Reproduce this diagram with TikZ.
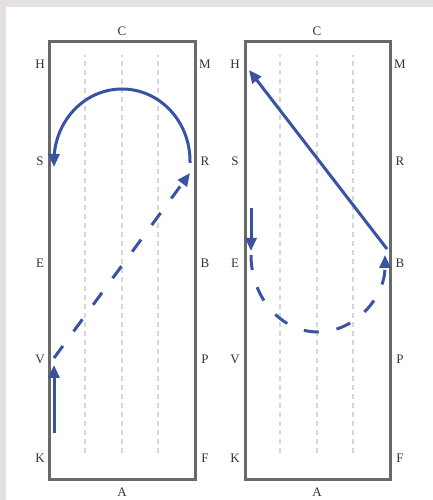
\documentclass[tikz,border=0pt]{standalone}
\usepackage{fontspec}
\setmainfont{Liberation Serif}
\usetikzlibrary{arrows.meta}
\definecolor{bluepath}{HTML}{3A52A2}
\definecolor{framegray}{HTML}{696969}
\definecolor{guidegray}{HTML}{D6D6D6}
\definecolor{bordergray}{HTML}{E5E1E0}
\definecolor{labelcol}{HTML}{333333}
\begin{document}
\begin{tikzpicture}[x=1pt,y=1pt,
  lab/.style={font=\fontsize{13}{13}\selectfont, text=labelcol, inner sep=0pt},
  arena/.style={draw=framegray, line width=3pt},
  guide/.style={draw=guidegray, line width=1.3pt, dash pattern=on 5pt off 4pt},
  route/.style={draw=bluepath, line width=3pt, line cap=butt},
  routedash/.style={route, dash pattern=on 15pt off 18pt},
  tip/.style={-{Triangle[length=13pt,width=11pt]}}
]
\useasboundingbox (0,0) rectangle (433,500);
\fill[white] (0,0) rectangle (433,500);
\fill[bordergray] (0,493) rectangle (433,500);
\fill[bordergray] (0,0) rectangle (6,500);

% ---------- left arena ----------
\draw[arena] (49.5,20.5) rectangle (195,458.5);
\foreach \gx in {85,122,158} \draw[guide] (\gx,47) -- (\gx,445);
\node[lab] (lC) at (122,469) {C};
\node[lab] (lA) at (122,8) {A};
\node[lab] (lH) at (40,436) {H};
\node[lab] (lS) at (40,339) {S};
\node[lab] (lE) at (40,237) {E};
\node[lab] (lV) at (40,141) {V};
\node[lab] (lK) at (40,42) {K};
\node[lab] (lM) at (205,436) {M};
\node[lab] (lR) at (205,339) {R};
\node[lab] (lB) at (205,237) {B};
\node[lab] (lP) at (205,141) {P};
\node[lab] (lF) at (205,42) {F};

\coordinate (l1) at (54,67);
\coordinate (l2) at (54,135);
\coordinate (l3) at (54,142);
\coordinate (l4) at (190,327);
\coordinate (l5) at (190,337);
\coordinate (l6) at (54,333);
\draw[route,tip] (l1) -- (l2);
\draw[routedash,tip] (l3) -- (l4);
\draw[route,tip] (l5) -- (190,339) arc[start angle=0,end angle=180,x radius=68pt,y radius=72pt] -- (l6);

% ---------- right arena ----------
\draw[arena] (245,20.5) rectangle (390,458.5);
\foreach \gx in {280,317,353} \draw[guide] (\gx,47) -- (\gx,445);
\node[lab] (rC) at (317,469) {C};
\node[lab] (rA) at (317,8) {A};
\node[lab] (rH) at (235,436) {H};
\node[lab] (rS) at (235,339) {S};
\node[lab] (rE) at (235,237) {E};
\node[lab] (rV) at (235,141) {V};
\node[lab] (rK) at (235,42) {K};
\node[lab] (rM) at (400,436) {M};
\node[lab] (rR) at (400,339) {R};
\node[lab] (rB) at (400,237) {B};
\node[lab] (rP) at (400,141) {P};
\node[lab] (rF) at (400,42) {F};

\coordinate (r1) at (387,251);
\coordinate (r2) at (249,430);
\coordinate (r3) at (251,292);
\coordinate (r4) at (251,249);
\coordinate (r5) at (251,245);
\draw[route,tip] (r1) -- (r2);
\draw[route,tip] (r3) -- (r4);
\draw[routedash,tip] (r5) arc[start angle=180,end angle=360,x radius=67pt,y radius=77pt];
\end{tikzpicture}
\end{document}
